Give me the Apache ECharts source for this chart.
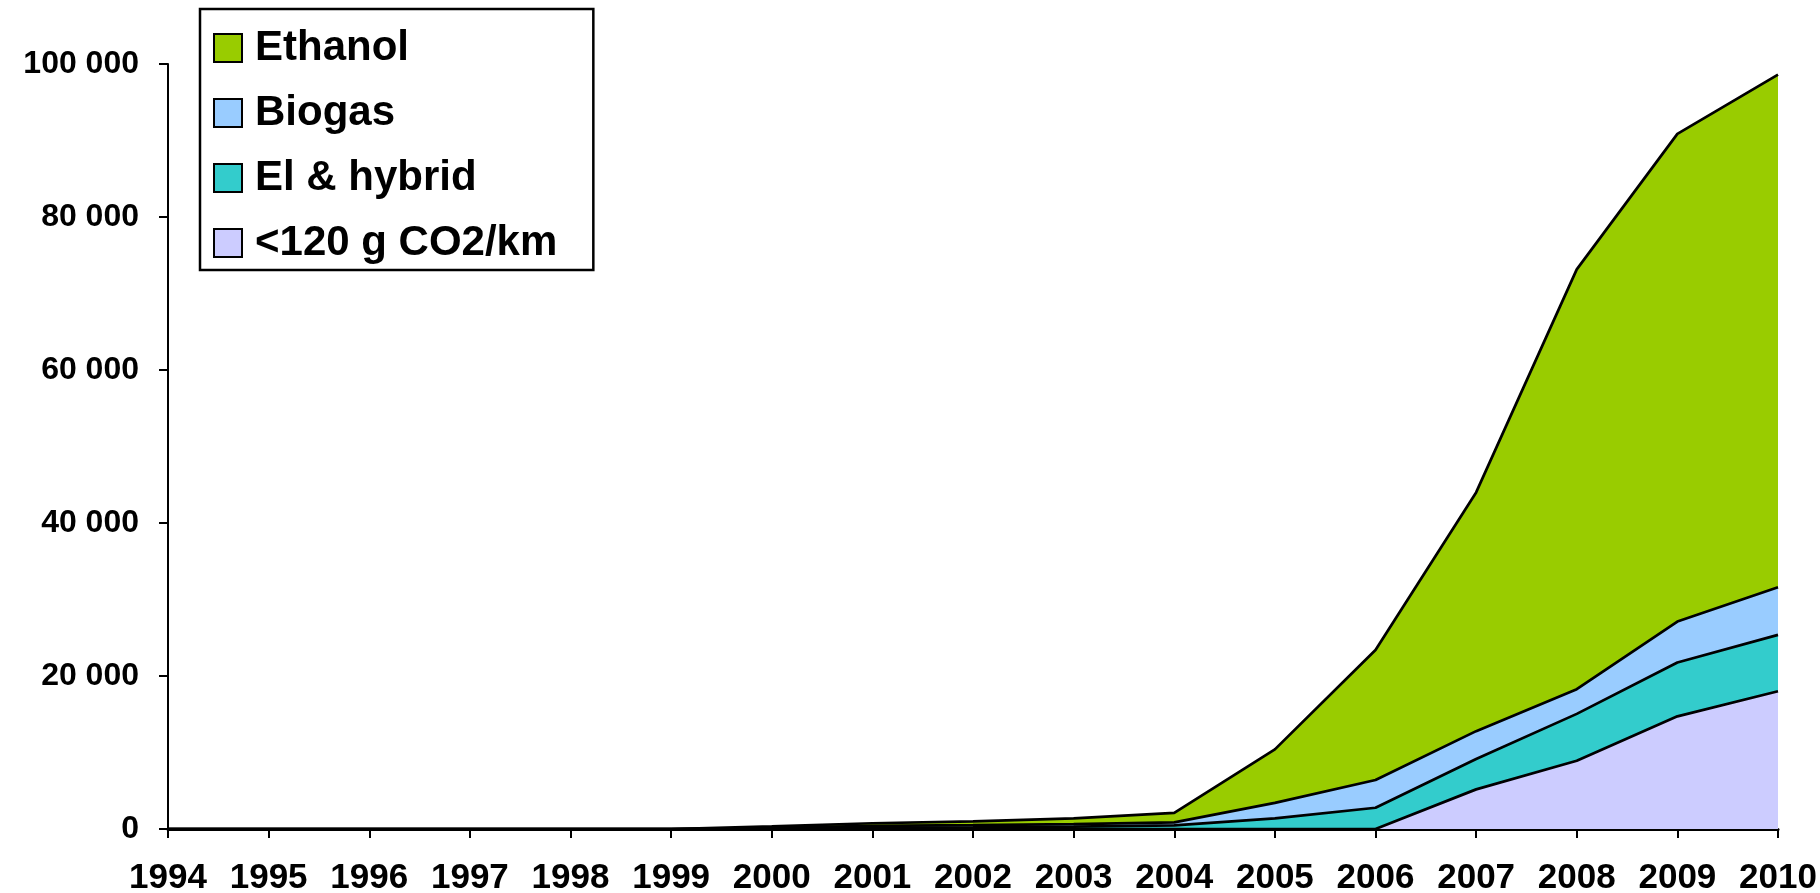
<!DOCTYPE html>
<html>
<head>
<meta charset="utf-8">
<script src="https://cdn.jsdelivr.net/npm/echarts@6/dist/echarts.min.js"></script>
<style>
html,body{margin:0;padding:0;background:#fff;}
#c{width:1820px;height:893px;}
</style>
</head>
<body>
<div id="c"></div>
<script>
const years = ['1994','1995','1996','1997','1998','1999','2000','2001','2002','2003','2004','2005','2006','2007','2008','2009','2010'];
const ethanol = [0,0,0,0,0,0,200,350,500,750,1250,7000,17000,31210,54880,63740,67025];
const biogas  = [0,0,0,0,0,0,100,250,300,350,390,2030,3620,3650,3230,5360,6215];
const elHybrid= [0,0,0,0,0,0,50,150,200,300,480,1380,2780,3960,6130,7030,7365];
const lowCO2  = [0,0,0,0,0,0,0,0,0,0,0,0,0,5180,8920,14730,18015];
const seriesNames = ['Ethanol','Biogas','El & hybrid','<120 g CO2/km'];
const seriesColors = ['#99CC00','#99CCFF','#33CCCC','#CCCCFF'];
const seriesData = [ethanol, biogas, elHybrid, lowCO2];

const FONT = "'Liberation Sans', Arial, sans-serif";
const chart = echarts.init(document.getElementById('c'), null, {renderer:'canvas'});
chart.setOption({
  animation:false,
  backgroundColor:'#fff',
  grid:{left:168, right:42, top:64, bottom:64, containLabel:false, outerBoundsMode:'none'},
  legend:{
    orient:'vertical', left:200, top:9,
    data:seriesNames,
    icon:'rect', itemWidth:28, itemHeight:28, itemGap:21,
    padding:[17,36,5,13],
    borderColor:'#000', borderWidth:2.5, backgroundColor:'#fff',
    itemStyle:{borderColor:'#000', borderWidth:2},
    textStyle:{fontFamily:FONT, fontWeight:'bold', fontSize:42, color:'#000', lineHeight:44, padding:[0,0,0,8]}
  },
  xAxis:{
    type:'category', data:years, boundaryGap:false,
    axisLine:{lineStyle:{color:'#000', width:3}},
    axisTick:{show:true, length:9, lineStyle:{color:'#000', width:2}, alignWithLabel:true},
    axisLabel:{fontFamily:FONT, fontWeight:'bold', fontSize:35, color:'#000', margin:32, interval:0},
    splitLine:{show:false}
  },
  yAxis:{
    type:'value', min:0, max:100000, interval:20000,
    axisLine:{show:true, lineStyle:{color:'#000', width:2}},
    axisTick:{show:true, length:9, lineStyle:{color:'#000', width:2}},
    axisLabel:{fontFamily:FONT, fontWeight:'bold', fontSize:32, color:'#000', margin:29,
      formatter:v=>String(v).replace(/\B(?=(\d{3})+(?!\d))/g,' ')},
    splitLine:{show:false}
  },
  series: seriesNames.map((n,i)=>({
    name:n, type:'line', stack:'total', stackOrder:'seriesDesc',
    data:seriesData[i], showSymbol:false, symbol:'none',
    itemStyle:{color:seriesColors[i], borderColor:'#000', borderWidth:2},
    lineStyle:{color:'#000', width:2.7},
    areaStyle:{color:seriesColors[i], opacity:1}
  }))
});
</script>
</body>
</html>
